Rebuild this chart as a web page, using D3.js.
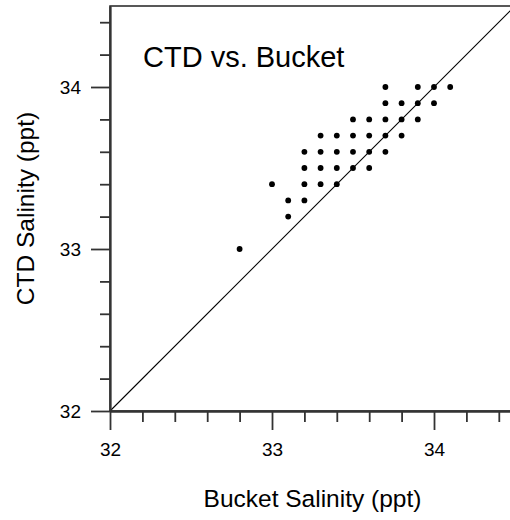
<!DOCTYPE html>
<html>
<head>
<meta charset="utf-8">
<script src="https://cdn.jsdelivr.net/npm/d3@7"></script>
<style>
  body { margin: 0; background: #fff; overflow: hidden; }
  text { font-family: Arial, "Liberation Sans", sans-serif; fill: #000; }
</style>
</head>
<body>
<div id="chart"></div>
<script>
// 数据：每个点 = (bucket, ctd)
var bucket = [32.8,
  33.1,
  33.1, 33.2,
  33.0, 33.2, 33.3, 33.4,
  33.2, 33.3, 33.4, 33.5, 33.6,
  33.2, 33.3, 33.4, 33.5, 33.6, 33.7,
  33.3, 33.4, 33.5, 33.6, 33.7, 33.8,
  33.5, 33.6, 33.7, 33.8, 33.9,
  33.7, 33.8, 33.9, 34.0,
  33.7, 33.9, 34.0, 34.1];
var ctd = [33.0,
  33.2,
  33.3, 33.3,
  33.4, 33.4, 33.4, 33.4,
  33.5, 33.5, 33.5, 33.5, 33.5,
  33.6, 33.6, 33.6, 33.6, 33.6, 33.6,
  33.7, 33.7, 33.7, 33.7, 33.7, 33.7,
  33.8, 33.8, 33.8, 33.8, 33.8,
  33.9, 33.9, 33.9, 33.9,
  34.0, 34.0, 34.0, 34.0];
var majorTicks = [32, 33, 34];
var minorTicks = [32.2, 32.4, 32.6, 32.8, 33.2, 33.4, 33.6, 33.8, 34.2, 34.4];
var domain = [32, 34.5];
var title = "CTD vs. Bucket";
var xTitle = "Bucket Salinity (ppt)";
var yTitle = "CTD Salinity (ppt)";

var width = 510, height = 520;
var plotLeft = 110, plotTop = 6, plotW = 405, plotH = 405; // 右边框超出画布

var svg = d3.select("#chart").append("svg")
  .attr("width", width).attr("height", height);

var x = d3.scaleLinear().domain(domain).range([plotLeft, plotLeft + plotW]);
var y = d3.scaleLinear().domain(domain).range([plotTop + plotH, plotTop]);

// 边框（上、右）
svg.append("rect")
  .attr("x", x(domain[0])).attr("y", y(domain[1]))
  .attr("width", plotW).attr("height", plotH)
  .attr("fill", "none").attr("stroke", "#222").attr("stroke-width", 1.5);

// 对角线 y = x
svg.append("line")
  .attr("x1", x(domain[0])).attr("y1", y(domain[0]))
  .attr("x2", x(domain[1])).attr("y2", y(domain[1]))
  .attr("stroke", "#000").attr("stroke-width", 1.1);

// 点
svg.append("g").selectAll("circle")
  .data(d3.range(bucket.length)).enter().append("circle")
  .attr("cx", function(i) { return x(bucket[i]); })
  .attr("cy", function(i) { return y(ctd[i]); })
  .attr("r", 2.9)
  .attr("fill", "#000");

function styleAxis(g) {
  g.selectAll("path, line").attr("stroke", "#333").attr("stroke-width", 1.8);
  g.selectAll("text").attr("font-size", 19)
    .attr("font-family", "Arial, 'Liberation Sans', sans-serif").attr("fill", "#000");
}

// x 轴：先小刻度，再大刻度
svg.append("g").attr("transform", "translate(0," + y(domain[0]) + ")")
  .call(d3.axisBottom(x).tickValues(minorTicks).tickSize(11).tickSizeOuter(0).tickFormat(""))
  .call(styleAxis);
svg.append("g").attr("transform", "translate(0," + y(domain[0]) + ")")
  .call(d3.axisBottom(x).tickValues(majorTicks).tickSize(19).tickSizeOuter(0)
    .tickPadding(13).tickFormat(d3.format("d")))
  .call(styleAxis);

// y 轴
svg.append("g").attr("transform", "translate(" + x(domain[0]) + ",0)")
  .call(d3.axisLeft(y).tickValues(minorTicks).tickSize(10).tickSizeOuter(0).tickFormat(""))
  .call(styleAxis);
svg.append("g").attr("transform", "translate(" + x(domain[0]) + ",0)")
  .call(d3.axisLeft(y).tickValues(majorTicks).tickSize(19).tickSizeOuter(0)
    .tickPadding(10).tickFormat(d3.format("d")))
  .call(styleAxis);

// 标题和轴标题
svg.append("text")
  .attr("x", plotLeft + 33).attr("y", 67)
  .attr("font-size", 29)
  .text(title);

svg.append("text")
  .attr("x", plotLeft + plotW / 2).attr("y", 507)
  .attr("text-anchor", "middle")
  .attr("font-size", 24.5)
  .text(xTitle);

svg.append("text")
  .attr("transform", "translate(34," + (plotTop + plotH / 2) + ") rotate(-90)")
  .attr("text-anchor", "middle")
  .attr("font-size", 24.5)
  .text(yTitle);
</script>
</body>
</html>
